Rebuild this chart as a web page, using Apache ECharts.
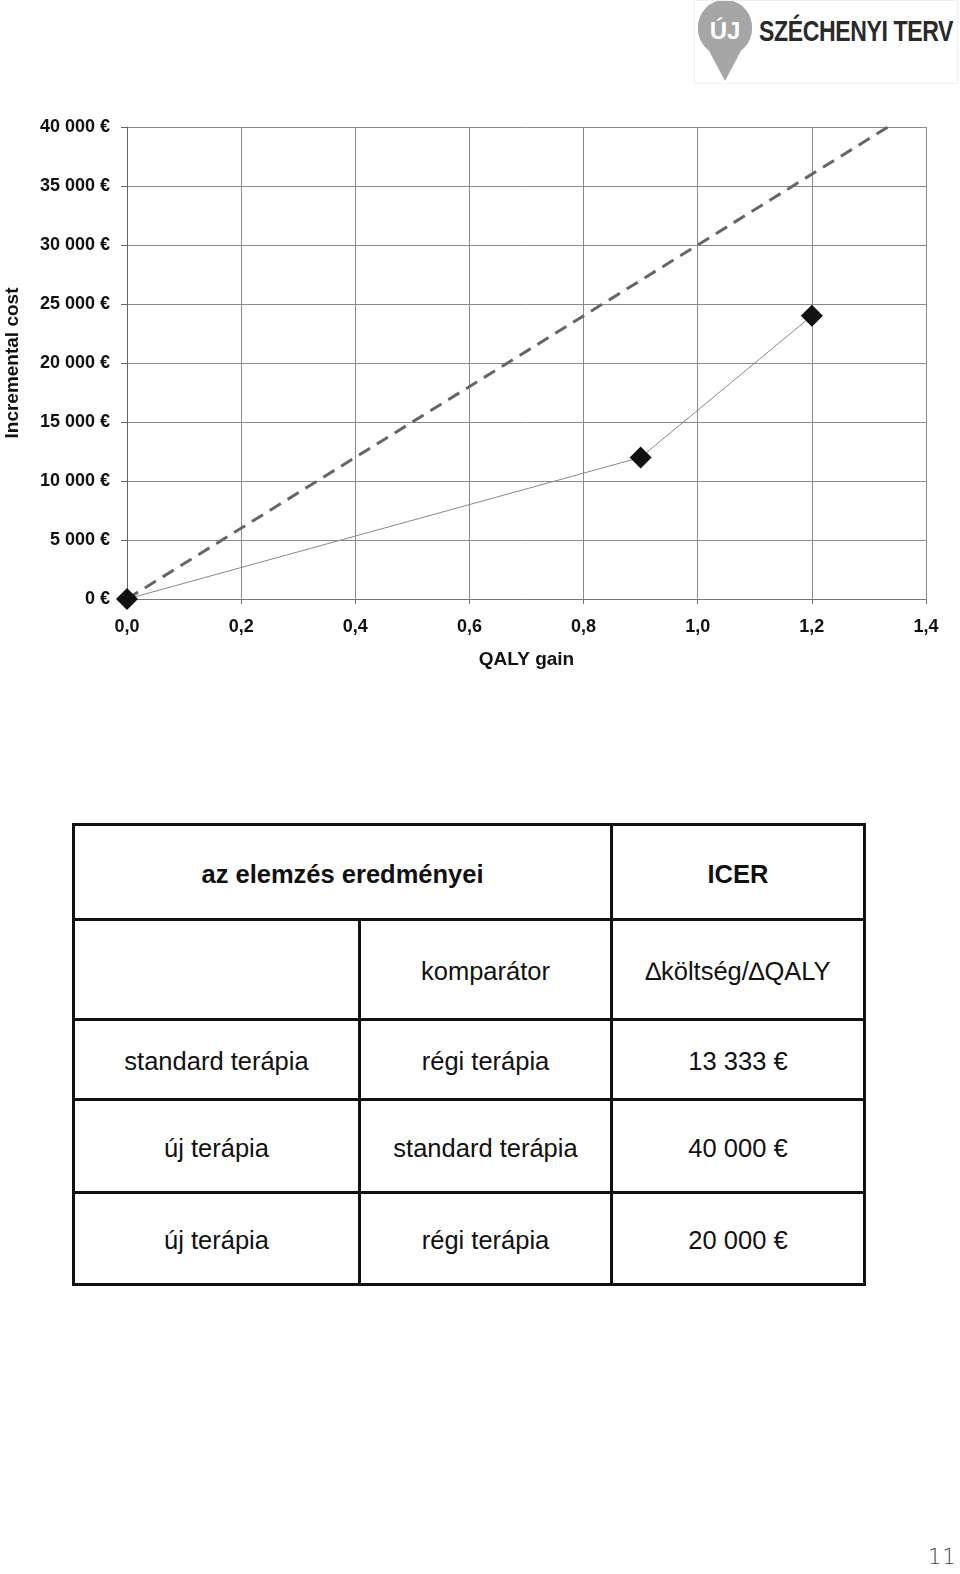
<!DOCTYPE html>
<html>
<head>
<meta charset="utf-8">
<script src="https://cdn.jsdelivr.net/npm/echarts@6/dist/echarts.min.js"></script>
<style>
  html, body { margin:0; padding:0; background:#fff; }
  body { width:960px; height:1574px; position:relative; overflow:hidden; font-family:"Liberation Sans", Arial, sans-serif; }
  #chart { position:absolute; left:0; top:0; width:960px; height:700px; }
  #logo { position:absolute; left:694px; top:0; width:262px; height:82px; border:1px solid #f0f0f0; }
  #logoText { position:absolute; left:64px; top:14px; font-family:"Liberation Sans",sans-serif; font-weight:bold; font-size:29px; color:#2a2a2a; letter-spacing:-0.5px; white-space:nowrap; transform-origin:left top; }
  table { position:absolute; left:72px; top:823px; border-collapse:collapse; }
  td { border:3.5px solid #111; text-align:center; font-size:25.5px; color:#111; padding:4px 0 0 0; }
  td.b { font-weight:bold; }
  #page { position:absolute; left:928px; top:1545px; font-family:"DejaVu Sans", sans-serif; font-weight:200; font-size:21px; color:#444; letter-spacing:1px; }
</style>
</head>
<body>
<div id="logo">
  <svg width="60" height="82" style="position:absolute;left:0;top:0">
    <path d="M30 80 L12 46 A27 27 0 1 1 48 46 Z" fill="#a6a6a6"/>
    <circle cx="30" cy="28" r="27" fill="#a6a6a6"/>
    <text x="30" y="38" text-anchor="middle" font-family="Liberation Sans, sans-serif" font-weight="bold" font-size="24" fill="#fff">ÚJ</text>
  </svg>
  <div id="logoText">SZÉCHENYI TERV</div>
</div>
<div id="chart"></div>
<table>
  <tr style="height:95px"><td class="b" colspan="2">az elemzés eredményei</td><td class="b" style="width:250px">ICER</td></tr>
  <tr style="height:100px"><td style="width:283px"></td><td style="width:249px">komparátor</td><td>∆költség/∆QALY</td></tr>
  <tr style="height:80px"><td>standard terápia</td><td>régi terápia</td><td>13 333 €</td></tr>
  <tr style="height:93px"><td>új terápia</td><td>standard terápia</td><td>40 000 €</td></tr>
  <tr style="height:92px"><td>új terápia</td><td>régi terápia</td><td>20 000 €</td></tr>
</table>
<div id="page">11</div>
<script>
// data
const qalyGain = [0, 0.9, 1.2];
const incrementalCost = [0, 12000, 24000];
const thresholdQaly = [0, 1.3333];
const thresholdCost = [0, 40000];
const xTickValues = [0, 0.2, 0.4, 0.6, 0.8, 1.0, 1.2, 1.4];
const yTickValues = [0, 5000, 10000, 15000, 20000, 25000, 30000, 35000, 40000];

// fit logo text width
(function(){
  const el = document.getElementById('logoText');
  const w = el.getBoundingClientRect().width;
  el.style.transform = 'scaleX(' + (194 / w) + ')';
})();

const chart = echarts.init(document.getElementById('chart'));
const labelFont = { fontFamily:'Liberation Sans', fontWeight:'bold', fontSize:18, color:'#111' };
chart.setOption({
  animation:false,
  grid:{ left:127, top:127, right:34, bottom:101, containLabel:false, outerBoundsMode:'none' },
  xAxis:{
    type:'value', min:0, max:1.4, interval:0.2,
    name:'QALY gain', nameLocation:'middle', nameGap:51,
    nameTextStyle:{ fontFamily:'Liberation Sans', fontWeight:'bold', fontSize:19, color:'#111' },
    axisLine:{ show:true, lineStyle:{ color:'#777', width:1 } },
    axisTick:{ show:true, length:5, lineStyle:{ color:'#777' } },
    axisLabel:Object.assign({ margin:19, formatter:v => v.toFixed(1).replace('.', ',') }, labelFont),
    splitLine:{ show:true, lineStyle:{ color:'#8a8a8a', width:1 } }
  },
  yAxis:{
    type:'value', min:0, max:40000, interval:5000,
    name:'Incremental cost', nameLocation:'middle', nameGap:105, nameRotate:90,
    nameTextStyle:{ fontFamily:'Liberation Sans', fontWeight:'bold', fontSize:19, color:'#111' },
    axisLine:{ show:true, lineStyle:{ color:'#666', width:1 } },
    axisTick:{ show:true, length:6, lineStyle:{ color:'#666' } },
    axisLabel:Object.assign({ margin:17, formatter:v => {
      const s = String(v);
      return (s.length > 3 ? s.slice(0, s.length-3) + ' ' + s.slice(-3) : s) + ' €';
    } }, labelFont),
    splitLine:{ show:true, lineStyle:{ color:'#8a8a8a', width:1 } }
  },
  series:[
    {
      type:'line',
      data:thresholdQaly.map((x,i) => [x, thresholdCost[i]]),
      showSymbol:false, symbol:'none',
      lineStyle:{ color:'#666', width:3, type:[13,8] },
      z:2
    },
    {
      type:'line',
      data:qalyGain.map((x,i) => [x, incrementalCost[i]]),
      symbol:'diamond', symbolSize:22,
      itemStyle:{ color:'#111' },
      lineStyle:{ color:'#888', width:1 },
      z:3
    }
  ]
});
</script>
</body>
</html>
